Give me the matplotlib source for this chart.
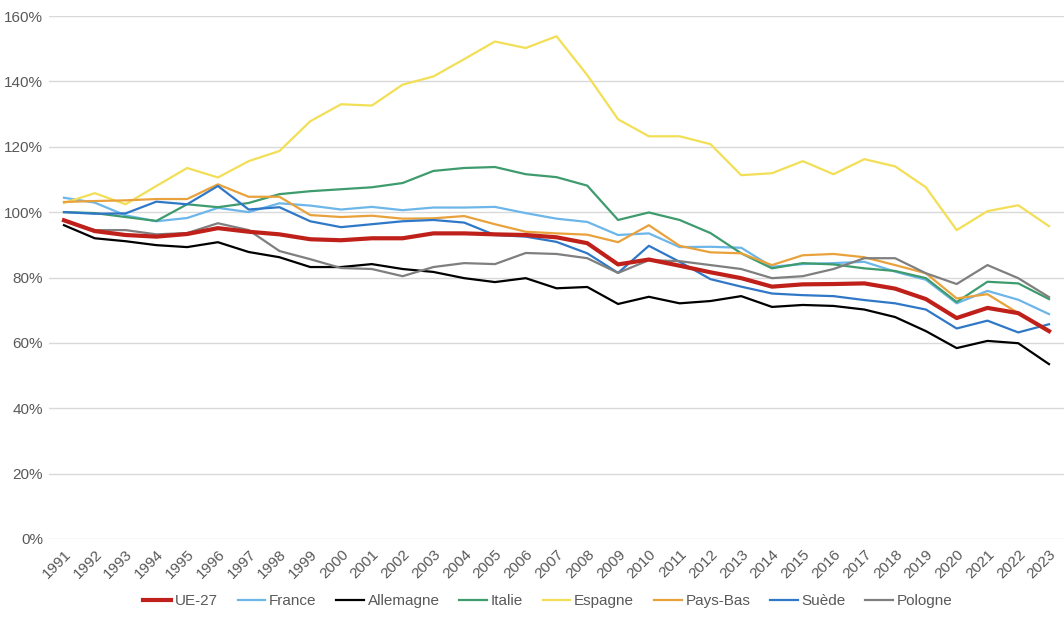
import matplotlib.pyplot as plt
import matplotlib.ticker as ticker
from matplotlib import font_manager

# Years on the category axis
years = list(range(1991, 2024))

# Series values (share, 1.0 = 100%)
ue27 = [97.5, 94.2, 93.0, 92.5, 93.3, 95.1, 94.0, 93.2, 91.7, 91.4, 92.0,
        92.0, 93.5, 93.5, 93.2, 93.0, 92.3, 90.5, 84.0, 85.5, 83.6,
        81.6, 79.8, 77.2, 77.9, 78.0, 78.2, 76.6, 73.4, 67.6, 70.7, 69.1, 63.6]
france = [104.4, 102.9, 99.0, 97.2, 98.2, 101.3, 100.0, 102.7, 102.0, 100.8, 101.6,
          100.6, 101.4, 101.4, 101.6, 99.7, 98.0, 97.0, 93.0, 93.5, 89.3,
          89.4, 89.1, 83.3, 84.1, 84.4, 84.8, 81.8, 79.3, 72.1, 75.9, 73.2, 68.8]
allemagne = [96.0, 92.0, 91.1, 89.9, 89.3, 90.8, 87.8, 86.2, 83.2, 83.2, 84.1,
             82.6, 81.7, 79.8, 78.6, 79.8, 76.7, 77.1, 71.9, 74.1, 72.1,
             72.8, 74.3, 71.0, 71.6, 71.3, 70.2, 67.9, 63.6, 58.4, 60.6, 59.9, 53.5]
italie = [100.0, 99.7, 98.5, 97.3, 102.4, 101.5, 102.8, 105.5, 106.4, 107.0, 107.6,
          108.9, 112.6, 113.5, 113.8, 111.6, 110.7, 108.1, 97.6, 99.9, 97.6,
          93.6, 87.4, 82.8, 84.4, 84.0, 82.8, 82.0, 79.8, 72.5, 78.7, 78.2, 73.4]
espagne = [102.8, 105.8, 102.4, 108.0, 113.5, 110.6, 115.6, 118.7, 127.8, 133.0, 132.6,
           139.0, 141.5, 146.8, 152.2, 150.2, 153.8, 141.9, 128.4, 123.2, 123.2,
           120.8, 111.3, 111.9, 115.6, 111.6, 116.2, 114.0, 107.6, 94.5, 100.3, 102.1, 95.7]
pays_bas = [103.1, 103.4, 103.6, 104.0, 104.0, 108.5, 104.7, 104.7, 99.1, 98.5, 98.9,
            98.0, 98.1, 98.8, 96.3, 94.0, 93.5, 93.1, 90.8, 96.0, 89.7,
            87.7, 87.4, 83.8, 86.8, 87.2, 86.2, 83.8, 81.3, 73.6, 74.9, 69.1, 63.6]
suede = [100.0, 99.5, 99.6, 103.2, 102.4, 108.0, 100.8, 101.5, 97.2, 95.4, 96.3,
         97.2, 97.6, 96.8, 93.0, 92.5, 90.9, 87.4, 81.4, 89.7, 84.8,
         79.5, 77.2, 75.1, 74.6, 74.3, 73.1, 72.1, 70.2, 64.4, 66.8, 63.2, 65.7]
pologne = [97.3, 94.5, 94.5, 93.2, 93.6, 96.6, 94.5, 88.1, 85.6, 82.9, 82.6,
           80.4, 83.2, 84.4, 84.1, 87.5, 87.2, 85.9, 81.4, 85.3, 85.0,
           83.8, 82.6, 79.8, 80.4, 82.6, 85.9, 85.9, 81.3, 78.0, 83.8, 79.8, 74.0]

# Pick a narrow font if one is installed
names = {f.name for f in font_manager.fontManager.ttflist}
family = ['Liberation Sans Narrow', 'DejaVu Sans'] if 'Liberation Sans Narrow' in names \
    else ['Liberation Sans', 'DejaVu Sans']
plt.rcParams['font.family'] = family

text_color = '#595959'

fig = plt.figure(figsize=(10.64, 6.22), dpi=100)
ax = fig.add_axes([48.6 / 1064, 1 - 539 / 622, (1064.4 - 48.6) / 1064, (539 - 16) / 622])

series = [
    ('UE-27', ue27, '#C0201A', 3.0),
    ('France', france, '#6CB6EA', 1.6),
    ('Allemagne', allemagne, '#000000', 1.6),
    ('Italie', italie, '#3E9B6E', 1.6),
    ('Espagne', espagne, '#F2DF55', 1.6),
    ('Pays-Bas', pays_bas, '#E9A23B', 1.6),
    ('Suède', suede, '#2F78C8', 1.6),
    ('Pologne', pologne, '#7F7F7F', 1.6),
]
# draw UE-27 on top of the others
for name, vals, color, lw in series:
    ax.plot(years, [v / 100 for v in vals], color=color, linewidth=lw, label=name,
            zorder=5 if name == 'UE-27' else 3, solid_joinstyle='round')

ax.set_xlim(1990.5, 2023.5)
ax.set_ylim(0, 1.6)
ax.yaxis.set_major_locator(ticker.MultipleLocator(0.2))
ax.yaxis.set_major_formatter(ticker.PercentFormatter(1.0, decimals=0))
ax.set_xticks(years)
ax.set_xticklabels([str(y) for y in years], rotation=45, ha='right',
                   rotation_mode='anchor')

ax.grid(axis='y', color='#D9D9D9', linewidth=1.0)
ax.set_axisbelow(True)
for side in ['top', 'right', 'left', 'bottom']:
    ax.spines[side].set_visible(False)
ax.tick_params(axis='both', length=0, colors=text_color, labelsize=11)
ax.tick_params(axis='x', pad=6)
ax.tick_params(axis='y', pad=4)

leg = fig.legend(loc='lower center', bbox_to_anchor=(0.515, 0.0), ncol=8, frameon=False,
                 fontsize=11, handlelength=1.8, handletextpad=0.25, columnspacing=1.3,
                 labelcolor=text_color)

fig.savefig('out.png', dpi=100)
